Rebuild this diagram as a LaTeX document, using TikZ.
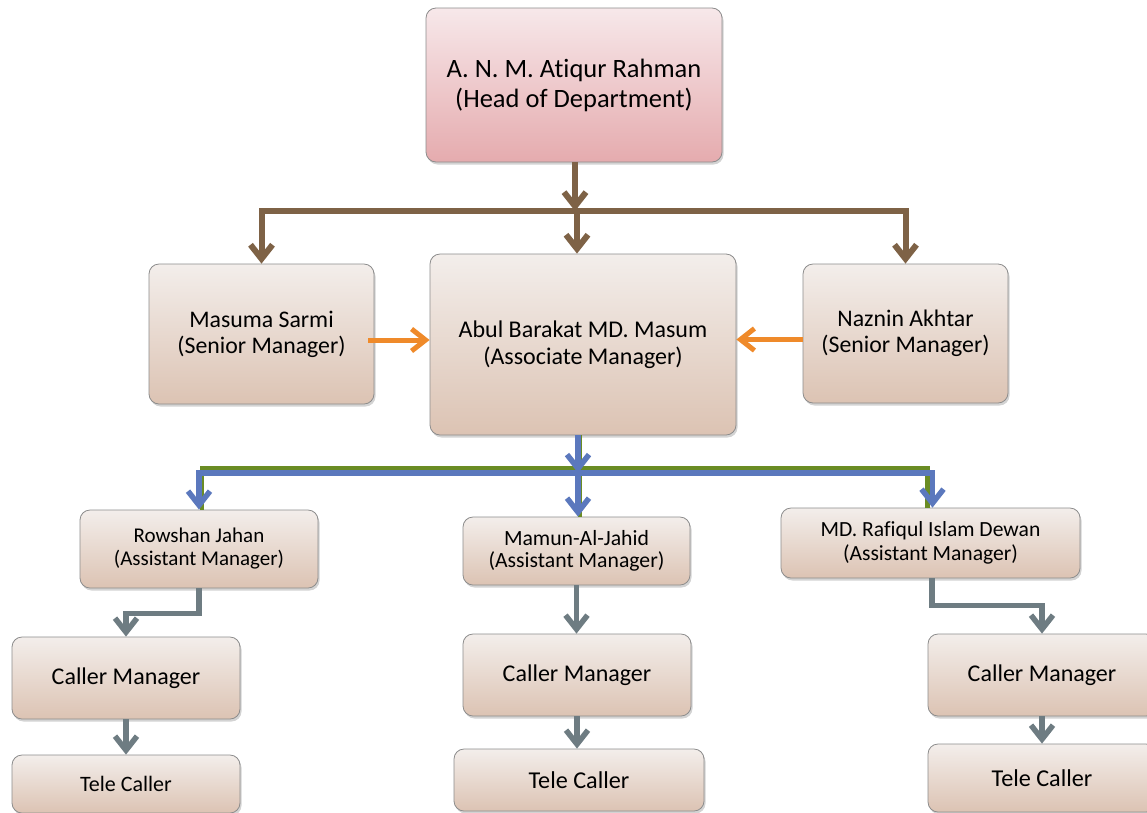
\documentclass[tikz,border=0pt]{standalone}
\usepackage{fontspec}
\setmainfont[Ligatures=NoCommon]{Carlito}
\usetikzlibrary{arrows.meta,shadows}
\definecolor{boxtop}{HTML}{F3EEEB}
\definecolor{boxbot}{HTML}{DCC3B3}
\definecolor{pinktop}{HTML}{F7E8EA}
\definecolor{pinkbot}{HTML}{E5ABAE}
\definecolor{brownln}{HTML}{7E6246}
\definecolor{orangeln}{HTML}{EF8A2A}
\definecolor{blueln}{HTML}{5B78BD}
\definecolor{greenln}{HTML}{6A8C24}
\definecolor{greyln}{HTML}{6E7C82}
\tikzset{
  box/.style={draw=black!45, line width=0.8pt, rounded corners=10pt,
    top color=boxtop, bottom color=boxbot,
    drop shadow={opacity=0.35,shadow xshift=1.5pt,shadow yshift=-2.5pt},
    align=center, inner sep=0pt, text=black},
  headbox/.style={box, top color=pinktop, bottom color=pinkbot},
  barb/.style={-{Straight Barb[length=14pt,width=22pt]}},
  brownconn/.style={draw=brownln, line width=6pt, barb},
  orangeconn/.style={draw=orangeln, line width=5pt, barb},
  blueconn/.style={draw=blueln, line width=5.5pt, barb},
  greenline/.style={draw=greenln, line width=4.5pt},
  greyconn/.style={draw=greyln, line width=5.5pt, barb},
}
\begin{document}
\begin{tikzpicture}[x=1pt,y=1pt]
\useasboundingbox (0,0) rectangle (1147,-812);
% nodes
\node[headbox, minimum width=296pt, minimum height=154pt, font=\fontsize{26.5}{30}\selectfont] (head) at (574,-85) {A. N. M. Atiqur Rahman\\(Head of Department)};
\node[box, minimum width=225pt, minimum height=140pt, font=\fontsize{23.8}{26}\selectfont] (masuma) at (261.5,-334) {Masuma Sarmi\\(Senior Manager)};
\node[box, minimum width=306pt, minimum height=181pt, font=\fontsize{24}{27}\selectfont] (abul) at (583,-344.5) {Abul Barakat MD. Masum\\(Associate Manager)};
\node[box, minimum width=205pt, minimum height=139pt, font=\fontsize{23.8}{26}\selectfont] (naznin) at (905.5,-333.5) {Naznin Akhtar\\(Senior Manager)};
\node[box, minimum width=238pt, minimum height=78pt, font=\fontsize{21}{23}\selectfont] (rowshan) at (199,-549) {Rowshan Jahan\\(Assistant Manager)};
\node[box, minimum width=227pt, minimum height=68pt, font=\fontsize{21.7}{22}\selectfont] (mamun) at (576.5,-551) {Mamun-Al-Jahid\\(Assistant Manager)};
\node[box, minimum width=299pt, minimum height=70pt, font=\fontsize{21.6}{24}\selectfont] (rafiqul) at (930.5,-543) {MD. Rafiqul Islam Dewan\\(Assistant Manager)};
\node[box, minimum width=228pt, minimum height=82pt, font=\fontsize{24}{24}\selectfont] (cm1) at (126,-678) {Caller Manager};
\node[box, minimum width=228pt, minimum height=82pt, font=\fontsize{24}{24}\selectfont] (cm2) at (577,-675) {Caller Manager};
\node[box, minimum width=228pt, minimum height=82pt, font=\fontsize{24}{24}\selectfont] (cm3) at (1042,-675) {Caller Manager};
\node[box, minimum width=228pt, minimum height=58pt, font=\fontsize{22}{24}\selectfont] (tc1) at (126,-784) {Tele Caller};
\node[box, minimum width=250pt, minimum height=62pt, font=\fontsize{24.2}{24}\selectfont] (tc2) at (579,-780) {Tele Caller};
\node[box, minimum width=228pt, minimum height=68pt, font=\fontsize{24.2}{24}\selectfont] (tc3) at (1042,-778) {Tele Caller};
% brown connectors
\coordinate (hb) at (575,-211);
\draw[draw=brownln, line width=6pt] (hb -| masuma.north) -- (hb -| naznin.north);
\draw[brownconn] (head.south -| hb) -- (hb);
\draw[brownconn] (hb) -| (masuma.north);
\draw[brownconn] (hb) -| (naznin.north);
\draw[brownconn] ([xshift=2pt]hb) -- ([xshift=2pt]hb |- abul.north);
% orange connectors
\draw[orangeconn] ([yshift=-6pt,xshift=-6pt]masuma.east) -- ([yshift=-6pt]masuma.east -| abul.west);
\draw[orangeconn] ([yshift=-6pt]naznin.west) -- ([yshift=-6pt]naznin.west -| abul.east);
% green + blue connectors
\coordinate (gb) at (580,-468);
\coordinate (bb) at (578,-473);
\draw[greenline] (abul.south -| gb) -- (gb);
\draw[greenline] ([xshift=3pt]rowshan.north) |- (gb) -| ([xshift=-3pt]rafiqul.north);
\draw[greenline] (gb) -- (gb |- mamun.north);
\draw[blueconn] (abul.south -| bb) -- (bb);
\draw[draw=blueln, line width=5.5pt] (bb -| rowshan.north) -- (bb -| rafiqul.north);
\draw[blueconn] (bb) -| (rowshan.north);
\draw[blueconn] (bb) -- (bb |- mamun.north);
\draw[blueconn] (bb) -| ([xshift=2pt]rafiqul.north);
% grey connectors
\draw[greyconn] (rowshan.south) -- ++(0,-25) -| (cm1.north);
\draw[greyconn] (cm1.south) -- (tc1.north);
\draw[greyconn] (mamun.south) -- (mamun.south |- cm2.north);
\draw[greyconn] (cm2.south) -- (cm2.south |- tc2.north);
\draw[greyconn] ([xshift=1.5pt]rafiqul.south) -- ++(0,-27) -| (cm3.north);
\draw[greyconn] (cm3.south) -- (tc3.north);
\end{tikzpicture}
\end{document}
